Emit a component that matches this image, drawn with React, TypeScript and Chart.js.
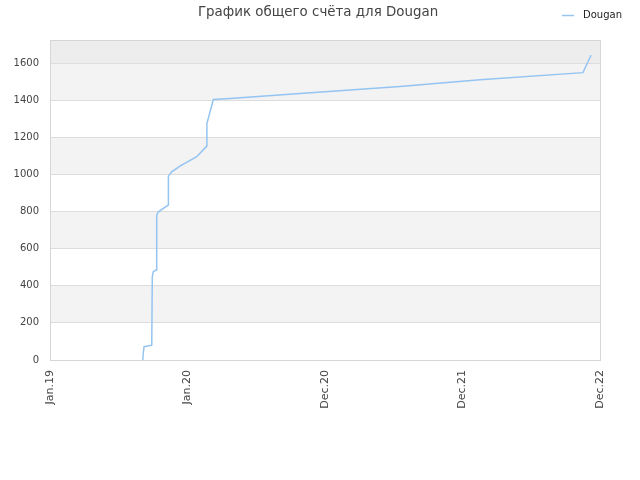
import React, { useEffect, useRef } from "react";
import { Chart, registerables } from "chart.js";

Chart.register(...registerables);

const TITLE = "График общего счёта для Dougan";
const SERIES_NAME = "Dougan";
const X_TICK_LABELS = ["Jan.19", "Jan.20", "Dec.20", "Dec.21", "Dec.22"];
// x position in label intervals (0 = Jan.19 ... 4 = Dec.22)
const X_VALUES = [
  0.674, 0.676, 0.684, 0.74, 0.744, 0.751, 0.771, 0.776, 0.788, 0.86, 0.861, 0.885, 0.945,
  1.067, 1.14, 1.141, 1.188, 1.309, 1.818, 2.545, 3.127, 3.876, 3.935,
];
const SCORES = [
  0, 20, 72, 80, 449, 476, 485, 781, 799, 835, 991, 1014, 1045,
  1096, 1153, 1275, 1404, 1410, 1436, 1474, 1511, 1549, 1643,
];
const Y_MAX = 1725;
const Y_STEP = 200;
const Y_TICK_LIMIT = 1600;

const FONT = "'DejaVu Sans', sans-serif";

export default function App() {
  const ref = useRef<HTMLCanvasElement | null>(null);

  useEffect(() => {
    document.body.style.margin = "0";
    const canvas = ref.current!;
    const bgPlugin = {
      id: "bands",
      beforeDraw(chart: any) {
        const { ctx, chartArea: a, scales } = chart;
        const y = scales.y;
        ctx.save();
        ctx.fillStyle = "#ffffff";
        ctx.fillRect(0, 0, chart.width, chart.height);
        for (let v = 0; v < Y_TICK_LIMIT; v += Y_STEP) {
          const idx = v / Y_STEP;
          if (idx % 2 === 1) {
            const top = y.getPixelForValue(v + Y_STEP);
            const bot = y.getPixelForValue(v);
            ctx.fillStyle = "#f3f3f3";
            ctx.fillRect(a.left, top, a.right - a.left, bot - top);
          }
        }
        const t = y.getPixelForValue(Y_TICK_LIMIT);
        ctx.fillStyle = "#ededed";
        ctx.fillRect(a.left, a.top, a.right - a.left, t - a.top);
        ctx.restore();
      },
      afterDraw(chart: any) {
        const { ctx, chartArea: a } = chart;
        ctx.save();
        ctx.strokeStyle = "#d6d6d6";
        ctx.lineWidth = 1;
        ctx.strokeRect(a.left + 0.5, a.top + 0.5, a.right - a.left, a.bottom - a.top);
        ctx.fillStyle = "#444444";
        ctx.font = `13.4px ${FONT}`;
        ctx.textAlign = "center";
        ctx.textBaseline = "middle";
        ctx.fillText(TITLE, 318, 13);
        ctx.strokeStyle = "#94c4f2";
        ctx.lineWidth = 1.5;
        ctx.beginPath();
        ctx.moveTo(562, 15.5);
        ctx.lineTo(574, 15.5);
        ctx.stroke();
        ctx.fillStyle = "#222222";
        ctx.font = `10px ${FONT}`;
        ctx.textAlign = "left";
        ctx.fillText(SERIES_NAME, 583, 15);
        ctx.restore();
      },
    };

    const chart = new Chart(canvas, {
      type: "line",
      data: {
        datasets: [
          {
            label: SERIES_NAME,
            data: X_VALUES.map((x, i) => ({ x, y: SCORES[i] })),
            borderColor: "#94c4f2",
            borderWidth: 1.5,
            pointRadius: 0,
            tension: 0,
            fill: false,
          },
        ],
      },
      options: {
        animation: false,
        responsive: false,
        devicePixelRatio: 1,
        layout: { padding: { top: 40, right: 40, left: 0, bottom: 0 } },
        plugins: { legend: { display: false }, title: { display: false }, tooltip: { enabled: false } },
        scales: {
          x: {
            type: "linear",
            min: 0,
            max: X_TICK_LABELS.length - 1,
            afterFit(scale: any) {
              scale.height = 120;
            },
            grid: { display: false, drawTicks: false },
            border: { display: false },
            ticks: {
              stepSize: 1,
              autoSkip: false,
              maxRotation: 90,
              minRotation: 90,
              padding: 10,
              color: "#444444",
              font: { family: FONT, size: 11 },
              callback: (v: any) => X_TICK_LABELS[Math.round(Number(v))] ?? "",
            },
          },
          y: {
            type: "linear",
            min: 0,
            max: Y_MAX,
            afterFit(scale: any) {
              scale.width = 50;
            },
            afterBuildTicks(scale: any) {
              scale.ticks = scale.ticks.filter((t: any) => t.value <= Y_TICK_LIMIT);
            },
            grid: { color: "#dddddd", drawTicks: false },
            border: { display: false },
            ticks: {
              stepSize: Y_STEP,
              padding: 11,
              color: "#444444",
              font: { family: FONT, size: 10 },
              callback: (v: any) => String(v),
            },
          },
        },
      },
      plugins: [bgPlugin],
    } as any);
    return () => chart.destroy();
  }, []);

  return (
    <div style={{ position: "absolute", left: 0, top: 0, width: 640, height: 480 }}>
      <canvas ref={ref} width={640} height={480} />
    </div>
  );
}
